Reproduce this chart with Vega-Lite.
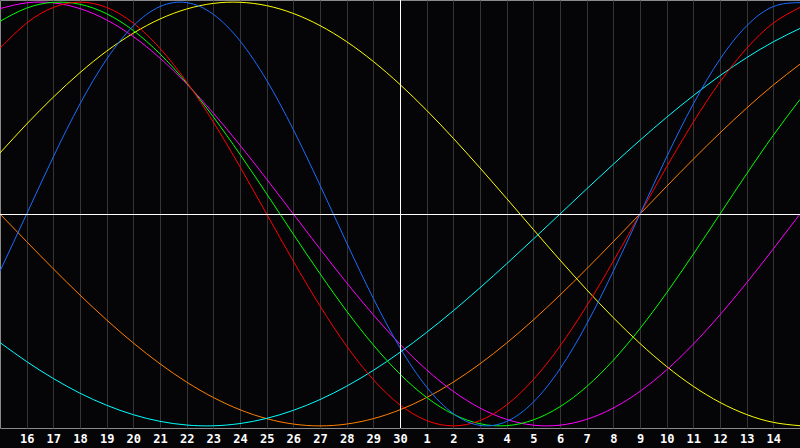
{
  "$schema": "https://vega.github.io/schema/vega-lite/v6.json",
  "width": 800,
  "height": 428,
  "autosize": {"type": "none"},
  "padding": {"top": 0, "left": 0, "right": 0, "bottom": 20},
  "background": "#050508",
  "config": {
    "view": {"fill": "#050508", "stroke": "#8a8a8a", "strokeWidth": 1},
    "axisX": {
      "labelColor": "#ffffff",
      "labelFont": "DejaVu Sans Mono",
      "labelFontWeight": "bold",
      "labelFontSize": 12,
      "labelPadding": 5,
      "labelOverlap": false,
      "labelSeparation": 0,
      "labelFlush": false,
      "labelBound": false,
      "grid": true,
      "gridColor": "#353535",
      "gridOpacity": 1,
      "ticks": false,
      "domain": false,
      "title": null
    }
  },
  "datasets": {
    "cycles": [
      {"d": 0, "physical": -0.2698, "emotional": 0.7818, "intellectual": 0.9096, "intuitive": 0.9694, "aesthetic": 0.2881, "awareness": 0, "spiritual": -0.6068},
      {"d": 1, "physical": 0, "emotional": 0.901, "intellectual": 0.9718, "intuitive": 0.9966, "aesthetic": 0.4245, "awareness": -0.1305, "spiritual": -0.6965},
      {"d": 2, "physical": 0.2698, "emotional": 0.9749, "intellectual": 0.9989, "intuitive": 0.9966, "aesthetic": 0.5517, "awareness": -0.2588, "spiritual": -0.7765},
      {"d": 3, "physical": 0.5196, "emotional": 1, "intellectual": 0.9898, "intuitive": 0.9694, "aesthetic": 0.6672, "awareness": -0.3827, "spiritual": -0.8457},
      {"d": 4, "physical": 0.7308, "emotional": 0.9749, "intellectual": 0.945, "intuitive": 0.9158, "aesthetic": 0.7687, "awareness": -0.5, "spiritual": -0.9028},
      {"d": 5, "physical": 0.8879, "emotional": 0.901, "intellectual": 0.866, "intuitive": 0.8372, "aesthetic": 0.8534, "awareness": -0.6088, "spiritual": -0.9473},
      {"d": 6, "physical": 0.9791, "emotional": 0.7818, "intellectual": 0.7557, "intuitive": 0.7357, "aesthetic": 0.9204, "awareness": -0.7071, "spiritual": -0.9786},
      {"d": 7, "physical": 0.9977, "emotional": 0.6235, "intellectual": 0.6182, "intuitive": 0.6142, "aesthetic": 0.9675, "awareness": -0.7934, "spiritual": -0.996},
      {"d": 8, "physical": 0.9423, "emotional": 0.4339, "intellectual": 0.4582, "intuitive": 0.4759, "aesthetic": 0.994, "awareness": -0.866, "spiritual": -0.9996},
      {"d": 9, "physical": 0.817, "emotional": 0.2225, "intellectual": 0.2817, "intuitive": 0.3247, "aesthetic": 0.9993, "awareness": -0.9239, "spiritual": -0.989},
      {"d": 10, "physical": 0.6311, "emotional": 0, "intellectual": 0.0951, "intuitive": 0.1646, "aesthetic": 0.9834, "awareness": -0.9659, "spiritual": -0.9646},
      {"d": 11, "physical": 0.3984, "emotional": -0.2225, "intellectual": -0.0951, "intuitive": 0, "aesthetic": 0.9465, "awareness": -0.9914, "spiritual": -0.9267},
      {"d": 12, "physical": 0.1362, "emotional": -0.4339, "intellectual": -0.2817, "intuitive": -0.1646, "aesthetic": 0.8893, "awareness": -1, "spiritual": -0.8758},
      {"d": 13, "physical": -0.1362, "emotional": -0.6235, "intellectual": -0.4582, "intuitive": -0.3247, "aesthetic": 0.8133, "awareness": -0.9914, "spiritual": -0.8126},
      {"d": 14, "physical": -0.3984, "emotional": -0.7818, "intellectual": -0.6182, "intuitive": -0.4759, "aesthetic": 0.7199, "awareness": -0.9659, "spiritual": -0.738},
      {"d": 15, "physical": -0.6311, "emotional": -0.901, "intellectual": -0.7557, "intuitive": -0.6142, "aesthetic": 0.6112, "awareness": -0.9239, "spiritual": -0.6529},
      {"d": 16, "physical": -0.817, "emotional": -0.9749, "intellectual": -0.866, "intuitive": -0.7357, "aesthetic": 0.4894, "awareness": -0.866, "spiritual": -0.5586},
      {"d": 17, "physical": -0.9423, "emotional": -1, "intellectual": -0.945, "intuitive": -0.8372, "aesthetic": 0.3572, "awareness": -0.7934, "spiritual": -0.4566},
      {"d": 18, "physical": -0.9977, "emotional": -0.9749, "intellectual": -0.9898, "intuitive": -0.9158, "aesthetic": 0.2174, "awareness": -0.7071, "spiritual": -0.3482},
      {"d": 19, "physical": -0.9791, "emotional": -0.901, "intellectual": -0.9989, "intuitive": -0.9694, "aesthetic": 0.073, "awareness": -0.6088, "spiritual": -0.2349},
      {"d": 20, "physical": -0.8879, "emotional": -0.7818, "intellectual": -0.9718, "intuitive": -0.9966, "aesthetic": -0.073, "awareness": -0.5, "spiritual": -0.1183},
      {"d": 21, "physical": -0.7308, "emotional": -0.6235, "intellectual": -0.9096, "intuitive": -0.9966, "aesthetic": -0.2174, "awareness": -0.3827, "spiritual": 0},
      {"d": 22, "physical": -0.5196, "emotional": -0.4339, "intellectual": -0.8146, "intuitive": -0.9694, "aesthetic": -0.3572, "awareness": -0.2588, "spiritual": 0.1183},
      {"d": 23, "physical": -0.2698, "emotional": -0.2225, "intellectual": -0.6901, "intuitive": -0.9158, "aesthetic": -0.4894, "awareness": -0.1305, "spiritual": 0.2349},
      {"d": 24, "physical": 0, "emotional": 0, "intellectual": -0.5406, "intuitive": -0.8372, "aesthetic": -0.6112, "awareness": 0, "spiritual": 0.3482},
      {"d": 25, "physical": 0.2698, "emotional": 0.2225, "intellectual": -0.3717, "intuitive": -0.7357, "aesthetic": -0.7199, "awareness": 0.1305, "spiritual": 0.4566},
      {"d": 26, "physical": 0.5196, "emotional": 0.4339, "intellectual": -0.1893, "intuitive": -0.6142, "aesthetic": -0.8133, "awareness": 0.2588, "spiritual": 0.5586},
      {"d": 27, "physical": 0.7308, "emotional": 0.6235, "intellectual": 0, "intuitive": -0.4759, "aesthetic": -0.8893, "awareness": 0.3827, "spiritual": 0.6529},
      {"d": 28, "physical": 0.8879, "emotional": 0.7818, "intellectual": 0.1893, "intuitive": -0.3247, "aesthetic": -0.9465, "awareness": 0.5, "spiritual": 0.738},
      {"d": 29, "physical": 0.9791, "emotional": 0.901, "intellectual": 0.3717, "intuitive": -0.1646, "aesthetic": -0.9834, "awareness": 0.6088, "spiritual": 0.8126},
      {"d": 30, "physical": 0.9977, "emotional": 0.9749, "intellectual": 0.5406, "intuitive": 0, "aesthetic": -0.9993, "awareness": 0.7071, "spiritual": 0.8758}
    ],
    "today": [{"d": 15}],
    "zero": [{"value": 0}]
  },
  "layer": [
    {
      "data": {"name": "cycles"},
      "transform": [
        {"fold": ["awareness", "spiritual", "aesthetic", "intuitive", "intellectual", "emotional", "physical"], "as": ["cycle", "value"]}
      ],
      "mark": {"type": "line", "strokeWidth": 1, "interpolate": "natural", "clip": true},
      "encoding": {
        "x": {
          "field": "d",
          "type": "quantitative",
          "scale": {"domain": [0, 30], "nice": false, "zero": false},
          "axis": {
            "values": [1, 2, 3, 4, 5, 6, 7, 8, 9, 10, 11, 12, 13, 14, 15, 16, 17, 18, 19, 20, 21, 22, 23, 24, 25, 26, 27, 28, 29],
            "labelExpr": "datum.value > 15 ? datum.value - 15 : datum.value + 15",
            "labelOverlap": false
          }
        },
        "y": {
          "field": "value",
          "type": "quantitative",
          "scale": {"domain": [-1.01, 1.01], "nice": false, "zero": false},
          "axis": null
        },
        "color": {
          "field": "cycle",
          "type": "nominal",
          "scale": {
            "domain": ["awareness", "spiritual", "aesthetic", "intuitive", "intellectual", "emotional", "physical"],
            "range": ["#ff8000", "#00ffff", "#ffff00", "#ff00ff", "#00ff00", "#ff0000", "#1a6cff"]
          },
          "legend": null
        }
      }
    },
    {
      "data": {"name": "zero"},
      "mark": {"type": "rule", "color": "#ffffff", "strokeWidth": 1, "yOffset": 0.5},
      "encoding": {"y": {"field": "value", "type": "quantitative", "axis": null}}
    },
    {
      "data": {"name": "today"},
      "mark": {"type": "rule", "color": "#ffffff", "strokeWidth": 1, "xOffset": 0.5},
      "encoding": {
        "x": {
          "field": "d",
          "type": "quantitative",
          "axis": {
            "values": [1, 2, 3, 4, 5, 6, 7, 8, 9, 10, 11, 12, 13, 14, 15, 16, 17, 18, 19, 20, 21, 22, 23, 24, 25, 26, 27, 28, 29],
            "labelExpr": "datum.value > 15 ? datum.value - 15 : datum.value + 15",
            "labelOverlap": false
          }
        }
      }
    }
  ]
}
